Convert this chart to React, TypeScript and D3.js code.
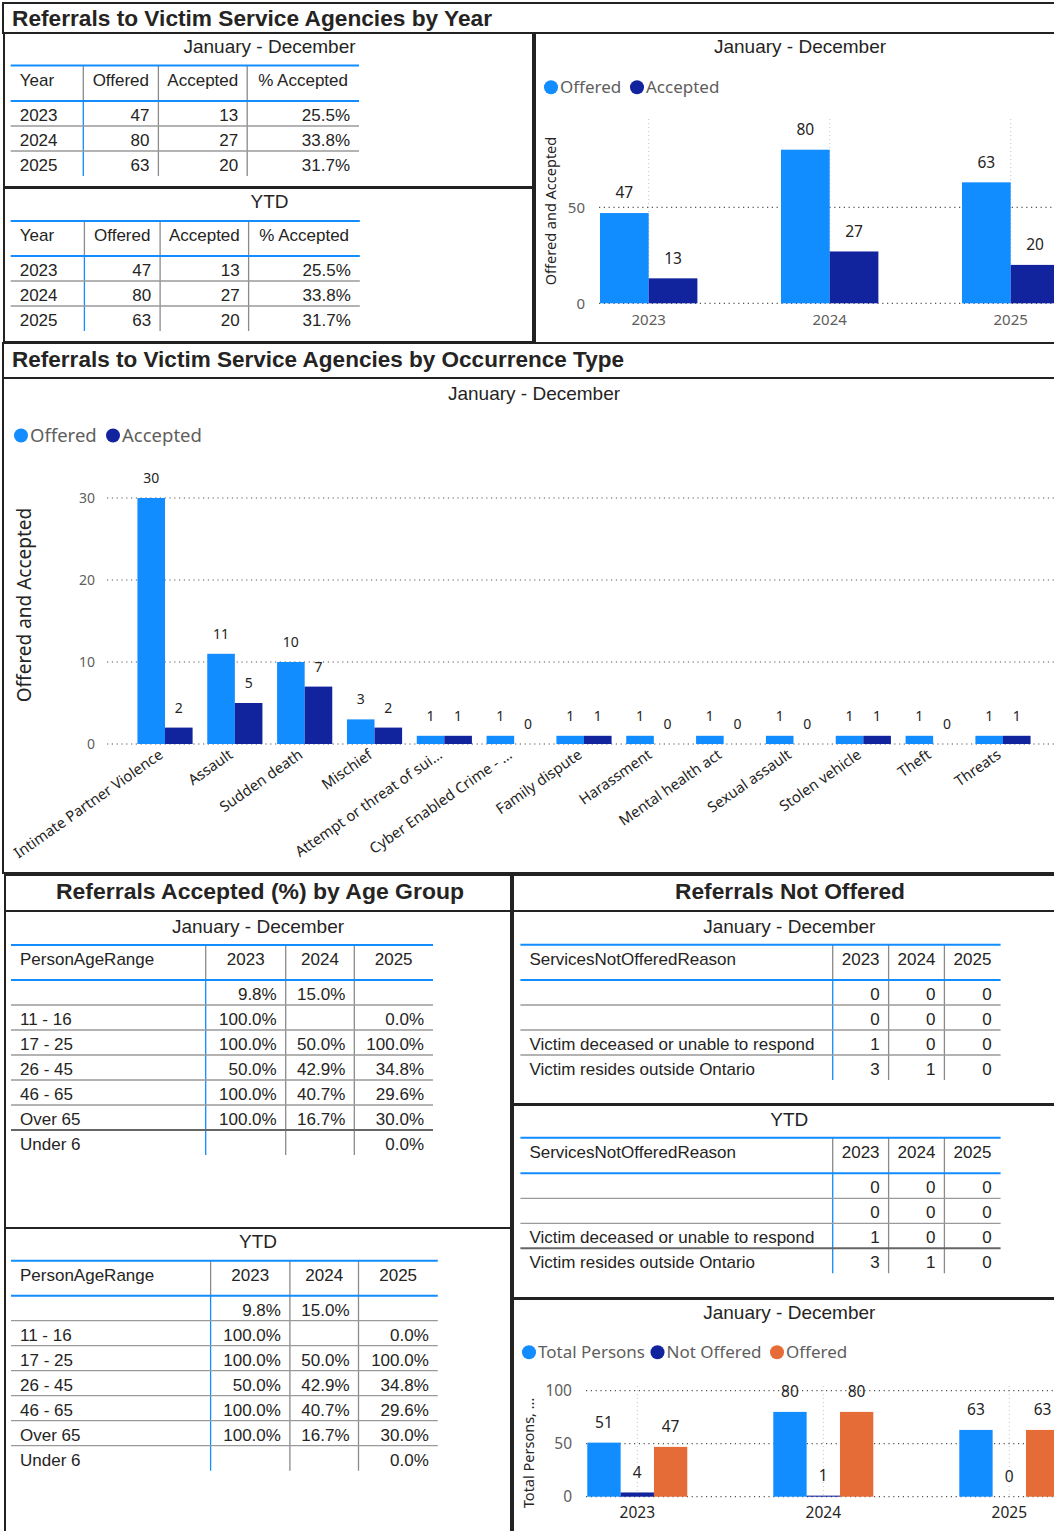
import React from "react";
import * as d3 from "d3";

// ---------- DATA ----------
const years = ["2023", "2024", "2025"];
const offeredByYear = [47, 80, 63];
const acceptedByYear = [13, 27, 20];
const pctAcceptedByYear = ["25.5%", "33.8%", "31.7%"];
const ytdOfferedByYear = [47, 80, 63];
const ytdAcceptedByYear = [13, 27, 20];
const ytdPctAcceptedByYear = ["25.5%", "33.8%", "31.7%"];

const occurrenceTypes = [
  "Intimate Partner Violence",
  "Assault",
  "Sudden death",
  "Mischief",
  "Attempt or threat of sui…",
  "Cyber Enabled Crime - …",
  "Family dispute",
  "Harassment",
  "Mental health act",
  "Sexual assault",
  "Stolen vehicle",
  "Theft",
  "Threats",
];
const occOffered = [30, 11, 10, 3, 1, 1, 1, 1, 1, 1, 1, 1, 1];
const occAccepted = [2, 5, 7, 2, 1, 0, 1, 0, 0, 0, 1, 0, 1];

const ageRanges = ["", "11 - 16", "17 - 25", "26 - 45", "46 - 65", "Over 65", "Under 6"];
const agePct2023 = ["9.8%", "100.0%", "100.0%", "50.0%", "100.0%", "100.0%", ""];
const agePct2024 = ["15.0%", "", "50.0%", "42.9%", "40.7%", "16.7%", ""];
const agePct2025 = ["", "0.0%", "100.0%", "34.8%", "29.6%", "30.0%", "0.0%"];
const ytdAgePct2023 = ["9.8%", "100.0%", "100.0%", "50.0%", "100.0%", "100.0%", ""];
const ytdAgePct2024 = ["15.0%", "", "50.0%", "42.9%", "40.7%", "16.7%", ""];
const ytdAgePct2025 = ["", "0.0%", "100.0%", "34.8%", "29.6%", "30.0%", "0.0%"];

const notOfferedReasons = ["", "", "Victim deceased or unable to respond", "Victim resides outside Ontario"];
const notOffered2023 = [0, 0, 1, 3];
const notOffered2024 = [0, 0, 0, 1];
const notOffered2025 = [0, 0, 0, 0];
const ytdNotOffered2023 = [0, 0, 1, 3];
const ytdNotOffered2024 = [0, 0, 0, 1];
const ytdNotOffered2025 = [0, 0, 0, 0];

const totalPersons = [51, 80, 63];
const notOfferedTotals = [4, 1, 0];
const offeredTotals = [47, 80, 63];

const topTicks = [0, 50];
const midTicks = [0, 10, 20, 30];
const botTicks = [0, 50, 100];

// ---------- STYLE ----------
const BLUE = "#118DFF";
const NAVY = "#12239E";
const ORANGE = "#E66C37";
const TXT = "#252423";
const GRAY = "#605E5C";
const TF = "'Liberation Sans', Arial, sans-serif";
const CF = "'Noto Sans', 'Segoe UI', sans-serif";

type TableProps = {
  cols: number[];
  top: number;
  headBottom: number;
  rowH: number;
  headers: string[];
  rows: string[][];
  darkLast?: boolean;
};

function Table({ cols, top, headBottom, rowH, headers, rows, darkLast }: TableProps) {
  const left = cols[0];
  const right = cols[cols.length - 1];
  const bottom = headBottom + rows.length * rowH;
  const headY = top + (headBottom - top) / 2 - 3;
  return (
    <g fontFamily={TF} fontSize={17} fill={TXT}>
      {cols.slice(1, -1).map((c, i) => (
        <g key={"c" + i}>
          <line x1={c} x2={c} y1={top} y2={headBottom} stroke="#8a8a8a" strokeWidth={1.3} />
          <line x1={c} x2={c} y1={headBottom} y2={bottom} stroke={i === 0 ? BLUE : "#8a8a8a"} strokeWidth={1.3} />
        </g>
      ))}
      {rows.slice(1).map((_, i) => {
        const y = headBottom + (i + 1) * rowH;
        const dark = darkLast && i === rows.length - 2;
        return (
          <line key={"s" + i} x1={left} x2={right} y1={y} y2={y} stroke={dark ? "#666" : "#9a9a9a"} strokeWidth={dark ? 2 : 1.3} />
        );
      })}
      <line x1={left} x2={right} y1={top} y2={top} stroke={BLUE} strokeWidth={2} />
      <line x1={left} x2={right} y1={headBottom} y2={headBottom} stroke={BLUE} strokeWidth={2} />
      {headers.map((h, i) => (
        <text
          key={"h" + i}
          x={i === 0 ? left + 9 : (cols[i] + cols[i + 1]) / 2}
          y={headY}
          dy="0.35em"
          textAnchor={i === 0 ? "start" : "middle"}
        >
          {h}
        </text>
      ))}
      {rows.map((r, ri) =>
        r.map((v, ci) => (
          <text
            key={ri + "-" + ci}
            x={ci === 0 ? left + 9 : cols[ci + 1] - 9}
            y={headBottom + ri * rowH + 14}
            dy="0.35em"
            textAnchor={ci === 0 ? "start" : "end"}
          >
            {v}
          </text>
        ))
      )}
    </g>
  );
}

type Series = { name: string; values: number[]; color: string };

type ChartProps = {
  cats: string[];
  series: Series[];
  x0: number;
  width: number;
  padInner: number;
  y: d3.ScaleLinear<number, number>;
  ticks: number[];
  gridLeft: number;
  gridRight: number;
  vGridTop?: number;
  labelSize: number;
  tickSize: number;
  tickRight: number;
};

function Bars({ cats, series, x0, width, padInner, y, ticks, gridLeft, gridRight, vGridTop, labelSize, tickSize, tickRight }: ChartProps) {
  const x = d3
    .scaleBand<string>()
    .domain(cats)
    .range([x0, x0 + width])
    .paddingInner(padInner)
    .paddingOuter(padInner / 2);
  const xi = d3
    .scaleBand<string>()
    .domain(series.map((s) => s.name))
    .range([0, x.bandwidth()]);
  return (
    <g>
      {vGridTop !== undefined &&
        cats.map((c) => {
          const cx = (x(c) as number) + x.bandwidth() / 2;
          return (
            <line key={"v" + c} x1={cx} x2={cx} y1={vGridTop} y2={y(0)} stroke="#c8c6c4" strokeWidth={1} strokeDasharray="1 3" />
          );
        })}
      {ticks.map((t) => (
        <g key={"t" + t}>
          <line x1={gridLeft} x2={gridRight} y1={y(t)} y2={y(t)} stroke="#555" strokeWidth={1.2} strokeDasharray="1.2 3.6" />
          <text x={tickRight} y={y(t)} dy="0.35em" textAnchor="end" fontFamily={CF} fontSize={tickSize} fill={GRAY}>
            {t}
          </text>
        </g>
      ))}
      {series.map((s) =>
        cats.map((c, i) => {
          const bx = (x(c) as number) + (xi(s.name) as number);
          const v = s.values[i];
          return (
            <g key={s.name + c}>
              <rect x={bx} y={y(v)} width={xi.bandwidth()} height={y(0) - y(v)} fill={s.color} />
              <text
                x={bx + xi.bandwidth() / 2}
                y={y(v) - 20}
                dy="0.35em"
                textAnchor="middle"
                fontFamily={CF}
                fontSize={labelSize}
                fill={TXT}
              >
                {v}
              </text>
            </g>
          );
        })
      )}
    </g>
  );
}

function Legend({ items, cy, size }: { items: { name: string; color: string; cx: number }[]; cy: number; size: number }) {
  return (
    <g fontFamily={CF} fontSize={size} fill={GRAY}>
      {items.map((it) => (
        <g key={it.name}>
          <circle cx={it.cx} cy={cy} r={7} fill={it.color} />
          <text x={it.cx + 9} y={cy} dy="0.35em">
            {it.name}
          </text>
        </g>
      ))}
    </g>
  );
}

function Box({ x, y, w, h }: { x: number; y: number; w: number; h: number }) {
  return <rect x={x} y={y} width={w} height={h} fill="none" stroke="#222" strokeWidth={2} />;
}

function Sub({ x, y, text }: { x: number; y: number; text: string }) {
  return (
    <text x={x} y={y} dy="0.35em" textAnchor="middle" fontFamily={TF} fontSize={19} fill={TXT}>
      {text}
    </text>
  );
}

function Title({ x, y, text, len, anchor }: { x: number; y: number; text: string; len: number; anchor?: string }) {
  return (
    <text
      x={x}
      y={y}
      dy="0.35em"
      textAnchor={anchor || "start"}
      fontFamily={TF}
      fontWeight="bold"
      fontSize={22.5}
      fill={TXT}
      textLength={len}
      lengthAdjust="spacingAndGlyphs"
    >
      {text}
    </text>
  );
}

export default function App() {
  const yearRows = years.map((yr, i) => [yr, String(offeredByYear[i]), String(acceptedByYear[i]), pctAcceptedByYear[i]]);
  const ytdYearRows = years.map((yr, i) => [yr, String(ytdOfferedByYear[i]), String(ytdAcceptedByYear[i]), ytdPctAcceptedByYear[i]]);
  const ageRows = ageRanges.map((a, i) => [a, agePct2023[i], agePct2024[i], agePct2025[i]]);
  const ytdAgeRows = ageRanges.map((a, i) => [a, ytdAgePct2023[i], ytdAgePct2024[i], ytdAgePct2025[i]]);
  const noRows = notOfferedReasons.map((r, i) => [r, String(notOffered2023[i]), String(notOffered2024[i]), String(notOffered2025[i])]);
  const ytdNoRows = notOfferedReasons.map((r, i) => [r, String(ytdNotOffered2023[i]), String(ytdNotOffered2024[i]), String(ytdNotOffered2025[i])]);

  const yTop = d3.scaleLinear().domain([0, 50]).range([303.3, 207.3]);
  const yMid = d3.scaleLinear().domain([0, 30]).range([744, 498]);
  const yBot = d3.scaleLinear().domain([0, 100]).range([1496.7, 1390.7]);

  const midX = d3
    .scaleBand<string>()
    .domain(occurrenceTypes)
    .range([130.1, 130.1 + 907.8])
    .paddingInner(0.21)
    .paddingOuter(0.105);

  const topX = d3.scaleBand<string>().domain(years).range([558.2, 558.2 + 543]).paddingInner(0.462).paddingOuter(0.231);
  const botX = d3.scaleBand<string>().domain(years).range([544.3, 544.3 + 558]).paddingInner(0.4624).paddingOuter(0.2312);

  return (
    <div style={{ position: "absolute", left: 0, top: 0 }}>
      <svg width={1054} height={1531} style={{ display: "block", background: "#fff" }}>
        <rect x={0} y={0} width={1054} height={1531} fill="#fff" />
        {/* Boxes */}
        <Box x={3} y={3} w={1070} h={30} />
        <Box x={4} y={33} w={529} h={154} />
        <Box x={4} y={188} w={529} h={154} />
        <Box x={535} y={33} w={540} h={310} />
        <Box x={3} y={343} w={1070} h={35} />
        <Box x={3} y={378} w={1070} h={495} />
        <Box x={5} y={875} w={506} h={36} />
        <Box x={513} y={875} w={560} h={36} />
        <Box x={5} y={911} w={506} h={317} />
        <Box x={5} y={1228} w={506} h={320} />
        <Box x={513} y={911} w={560} h={193} />
        <Box x={513} y={1105} w={560} h={193} />
        <Box x={513} y={1299} w={560} h={250} />

        {/* Titles */}
        <Title x={12} y={18.3} text="Referrals to Victim Service Agencies by Year" len={480} />
        <Title x={12} y={359.5} text="Referrals to Victim Service Agencies by Occurrence Type" len={612} />
        <Title x={260} y={891} text="Referrals Accepted (%) by Age Group" len={408} anchor="middle" />
        <Title x={790} y={891} text="Referrals Not Offered" len={230} anchor="middle" />

        {/* Year tables */}
        <Sub x={269.5} y={46.7} text="January - December" />
        <Table cols={[10.7, 83.3, 158.4, 247.2, 359]} top={65.5} headBottom={101} rowH={25} headers={["Year", "Offered", "Accepted", "% Accepted"]} rows={yearRows} />
        <Sub x={269.6} y={201.7} text="YTD" />
        <Table cols={[10.7, 84.4, 160.1, 248.6, 359.8]} top={221} headBottom={256} rowH={25} headers={["Year", "Offered", "Accepted", "% Accepted"]} rows={ytdYearRows} />

        {/* Top chart */}
        <Sub x={800} y={46.7} text="January - December" />
        <Legend
          cy={87.3}
          size={17}
          items={[
            { name: "Offered", color: BLUE, cx: 551 },
            { name: "Accepted", color: NAVY, cx: 637 },
          ]}
        />
        <text transform="translate(550.7,211) rotate(-90)" dy="0.35em" textAnchor="middle" fontFamily={CF} fontSize={14.5} fill={TXT}>
          Offered and Accepted
        </text>
        <Bars
          cats={years}
          series={[
            { name: "Offered", values: offeredByYear, color: BLUE },
            { name: "Accepted", values: acceptedByYear, color: NAVY },
          ]}
          x0={558.2}
          width={543}
          padInner={0.462}
          y={yTop}
          ticks={topTicks}
          gridLeft={599}
          gridRight={1054}
          vGridTop={119}
          labelSize={15.5}
          tickSize={15}
          tickRight={585}
        />
        {years.map((yr) => (
          <text key={"tx" + yr} x={(topX(yr) as number) + topX.bandwidth() / 2} y={319.3} dy="0.35em" textAnchor="middle" fontFamily={CF} fontSize={15} fill={GRAY}>
            {yr}
          </text>
        ))}

        {/* Middle chart */}
        <Sub x={534} y={393.3} text="January - December" />
        <Legend
          cy={435.5}
          size={18.5}
          items={[
            { name: "Offered", color: BLUE, cx: 21 },
            { name: "Accepted", color: NAVY, cx: 113 },
          ]}
        />
        <text transform="translate(24,605) rotate(-90)" dy="0.35em" textAnchor="middle" fontFamily={CF} fontSize={19} fill={TXT}>
          Offered and Accepted
        </text>
        <Bars
          cats={occurrenceTypes}
          series={[
            { name: "Offered", values: occOffered, color: BLUE },
            { name: "Accepted", values: occAccepted, color: NAVY },
          ]}
          x0={130.1}
          width={907.8}
          padInner={0.21}
          y={yMid}
          ticks={midTicks}
          gridLeft={107}
          gridRight={1054}
          labelSize={14}
          tickSize={14}
          tickRight={95}
        />
        {occurrenceTypes.map((c) => (
          <text
            key={"ox" + c}
            transform={`translate(${(midX(c) as number) + midX.bandwidth() / 2 - 1},757) rotate(-35)`}
            textAnchor="end"
            fontFamily={CF}
            fontSize={14.8}
            fill={TXT}
          >
            {c}
          </text>
        ))}

        {/* Age tables */}
        <Sub x={258} y={926} text="January - December" />
        <Table cols={[11, 205.7, 285.7, 354.3, 433]} top={945} headBottom={980} rowH={25} headers={["PersonAgeRange", ...years]} rows={ageRows} darkLast />
        <Sub x={258} y={1241.7} text="YTD" />
        <Table cols={[11, 210.6, 289.9, 358.5, 437.8]} top={1260.7} headBottom={1295.7} rowH={25} headers={["PersonAgeRange", ...years]} rows={ytdAgeRows} />

        {/* Not offered tables */}
        <Sub x={789.3} y={926} text="January - December" />
        <Table cols={[520.4, 832.7, 888.6, 944.4, 1000.6]} top={944.7} headBottom={980} rowH={25} headers={["ServicesNotOfferedReason", ...years]} rows={noRows} />
        <Sub x={789.3} y={1119.3} text="YTD" />
        <Table cols={[520.4, 832.7, 888.6, 944.4, 1000.6]} top={1137.7} headBottom={1173.3} rowH={25} headers={["ServicesNotOfferedReason", ...years]} rows={ytdNoRows} darkLast />

        {/* Bottom chart */}
        <Sub x={789.3} y={1312.7} text="January - December" />
        <Legend
          cy={1352.3}
          size={17}
          items={[
            { name: "Total Persons", color: BLUE, cx: 529 },
            { name: "Not Offered", color: NAVY, cx: 657.5 },
            { name: "Offered", color: ORANGE, cx: 777 },
          ]}
        />
        <text transform="translate(529,1453) rotate(-90)" dy="0.35em" textAnchor="middle" fontFamily={CF} fontSize={14.5} fill={TXT}>
          Total Persons, …
        </text>
        <Bars
          cats={years}
          series={[
            { name: "Total Persons", values: totalPersons, color: BLUE },
            { name: "Not Offered", values: notOfferedTotals, color: NAVY },
            { name: "Offered", values: offeredTotals, color: ORANGE },
          ]}
          x0={544.3}
          width={558}
          padInner={0.4624}
          y={yBot}
          ticks={botTicks}
          gridLeft={586}
          gridRight={1054}
          vGridTop={1386}
          labelSize={15.5}
          tickSize={15.5}
          tickRight={572}
        />
        {years.map((yr) => (
          <text key={"bx" + yr} x={(botX(yr) as number) + botX.bandwidth() / 2} y={1512.3} dy="0.35em" textAnchor="middle" fontFamily={CF} fontSize={15.5} fill={TXT}>
            {yr}
          </text>
        ))}
      </svg>
    </div>
  );
}
